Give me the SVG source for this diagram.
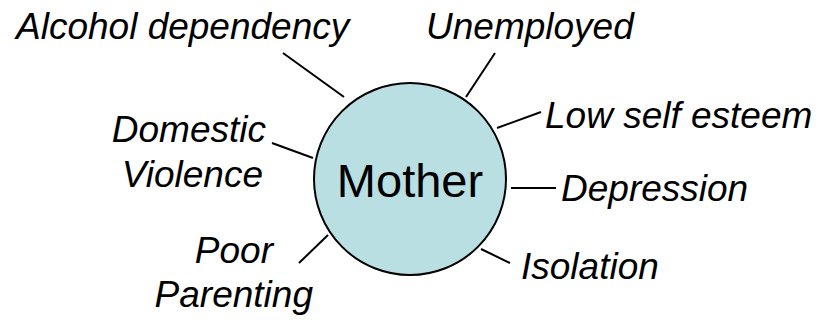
<svg xmlns="http://www.w3.org/2000/svg" width="821" height="320" viewBox="0 0 821 320">
<style>
.lbl{font-family:"Liberation Sans",Arial,sans-serif;font-style:italic;font-size:37px;fill:#000}
.ctr{font-family:"Liberation Sans",Arial,sans-serif;font-size:47px;fill:#000}
.c line{stroke:#000;stroke-width:2}
</style>
<rect width="821" height="320" fill="#fff"/>
<g id="mother">
<circle cx="410" cy="179" r="96" fill="#B9DFE2" stroke="#000" stroke-width="2"/>
<text class="ctr" x="410" y="197" text-anchor="middle">Mother</text>
</g>
<g class="c" id="connectors">
<line x1="283" y1="53" x2="344" y2="97"/>
<line x1="495" y1="53" x2="466" y2="97"/>
<line x1="541" y1="112" x2="497" y2="128"/>
<line x1="272" y1="143" x2="313" y2="158"/>
<line x1="511" y1="188" x2="556" y2="188"/>
<line x1="328" y1="235" x2="299" y2="263"/>
<line x1="481" y1="249" x2="510" y2="263"/>
</g>
<g id="alcohol"><text class="lbl" x="16" y="39">Alcohol dependency</text></g>
<g id="unemployed"><text class="lbl" x="426" y="39">Unemployed</text></g>
<g id="esteem"><text class="lbl" x="545" y="128">Low self esteem</text></g>
<g id="domestic"><text class="lbl" text-anchor="end"><tspan x="266" y="142">Domestic</tspan><tspan x="263" y="187">Violence</tspan></text></g>
<g id="depression"><text class="lbl" x="561" y="201">Depression</text></g>
<g id="parenting"><text class="lbl" text-anchor="end"><tspan x="273" y="263">Poor</tspan><tspan x="313" y="307">Parenting</tspan></text></g>
<g id="isolation"><text class="lbl" x="521" y="279">Isolation</text></g>
</svg>
